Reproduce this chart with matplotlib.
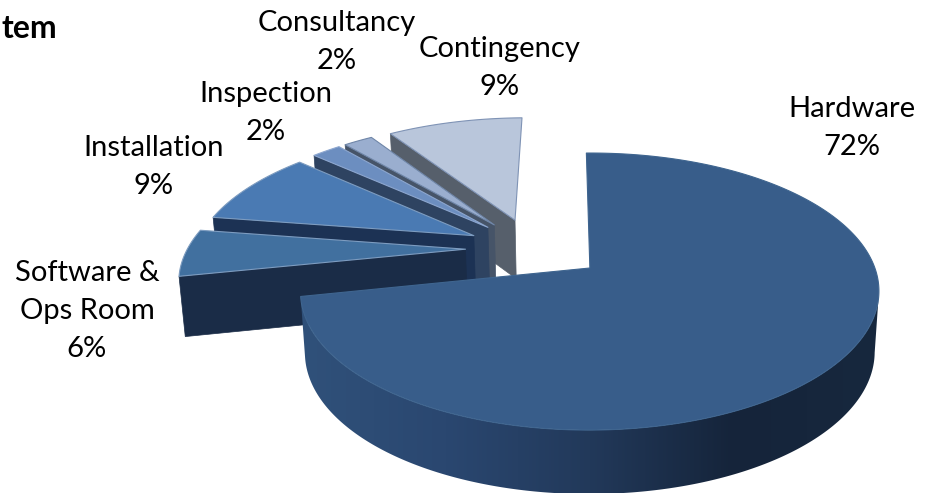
import numpy as np
import matplotlib
matplotlib.use("Agg")
import matplotlib.pyplot as plt
from matplotlib.colors import LinearSegmentedColormap
from matplotlib.patches import Polygon

# ---- data -------------------------------------------------------------
categories = ["Hardware", "Software &\nOps Room", "Installation",
              "Inspection", "Consultancy", "Contingency"]
percentages = [72, 5.7, 9, 2, 2, 9.3]

# ---- styles -----------------------------------------------------------
top_colors = ["#385D8A", "#41709F", "#4A7AB3", "#6C8EC0", "#9AAECF", "#B9C6DB"]
wall_colors = ["#22395A", "#1A2C47", "#1C3254", "#2E4361", "#465468", "#565F6B"]
edge_colors = ["#3F658F", "#7D9CC0", "#7D9CC0", "#8CA6CF", "#6F86A8", "#7F93B5"]
label_xy = [(852, 128), (87, 311), (154, 167), (266, 113), (337, 42), (500, 68)]
hardware_wall = LinearSegmentedColormap.from_list(
    "hw", ["#30517A", "#2A4770", "#22395A", "#15243A", "#17283E"])

FS = 21
FONT = "Lato"
START_DEG = -1.0
EXPLODE = 0.24
X0, Y0, A, B, K = 595.0, 268.0, 285.0, 134.5, 0.17
DEPTH, DEPTH_SLOPE, TAPER = 60.0, 4.0, 0.015


def project(X, Y, z=0.0):
    w = 1 + K * Y
    return (X0 + A * X / w * (1 - TAPER * z),
            Y0 - B * Y / w + z * (DEPTH - DEPTH_SLOPE * Y))


fig = plt.figure(figsize=(9.32, 4.93), dpi=100)
ax = fig.add_axes([0, 0, 1, 1])
ax.set_xlim(0, 932)
ax.set_ylim(493, 0)
ax.axis("off")

total = sum(percentages)
edges = START_DEG + np.concatenate([[0], np.cumsum(percentages)]) * 360.0 / total
mids = np.radians((edges[:-1] + edges[1:]) / 2)
cx = -EXPLODE * np.sin(mids[0]) - 0.018
cy = -EXPLODE * np.cos(mids[0])

# paint back to front: last slices are at the back, first slice in front
for i in range(len(percentages) - 1, -1, -1):
    ox = cx + EXPLODE * np.sin(mids[i]) - (0.02 if i else 0.0)
    oy = cy + EXPLODE * np.cos(mids[i])
    th = np.radians(np.linspace(edges[i], edges[i + 1], max(8, int(percentages[i] * 8))))
    Xs, Ys = ox + np.sin(th), oy + np.cos(th)
    tx, ty = project(Xs, Ys, 0)
    bx, by = project(Xs, Ys, 1)
    front = Ys <= -K  # outer wall starts at the silhouette of the disc

    if front.sum() > 1:
        wall = np.column_stack([np.r_[tx[front], bx[front][::-1]],
                                np.r_[ty[front], by[front][::-1]]])
        clip = Polygon(wall, closed=True, transform=ax.transData,
                       facecolor="none", edgecolor="none")
        ax.add_patch(clip)
        grad = np.linspace(0, 1, 256).reshape(1, -1)
        im = ax.imshow(grad, cmap=hardware_wall, aspect="auto", zorder=1,
                       extent=(wall[:, 0].min(), wall[:, 0].max(), 493, 0))
        im.set_clip_path(clip)
        ax.set_xlim(0, 932)
        ax.set_ylim(493, 0)

    ax0, ay0 = project(ox, oy, 0)
    if i > 0:
        ax1, ay1 = project(ox, oy, 1)
        wall = [(ax0, ay0), (tx[0], ty[0]), (bx[0], by[0]), (ax1, ay1)]
        ax.add_patch(Polygon(wall, closed=True, facecolor=wall_colors[i],
                             edgecolor=wall_colors[i], linewidth=0.5))

    top = [(ax0, ay0)] + list(zip(tx, ty))
    ax.add_patch(Polygon(top, closed=True, facecolor=top_colors[i],
                         edgecolor=edge_colors[i], linewidth=0.8, joinstyle="round"))

for name, pct, (lx, ly) in zip(categories, percentages, label_xy):
    ax.text(lx, ly, f"{name}\n{pct:.0f}%", ha="center", va="center", fontsize=FS,
            family=FONT, color="black", linespacing=1.55)

ax.text(57, 29, "tem", ha="right", va="center", fontsize=23, family=FONT,
        fontweight="bold", color="black")

fig.savefig("out.png", dpi=100)
